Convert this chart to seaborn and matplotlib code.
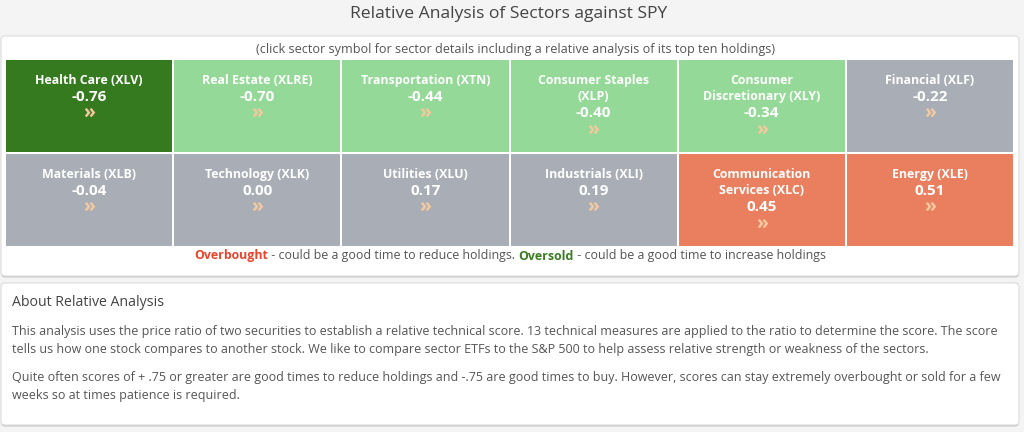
import matplotlib
matplotlib.use("Agg")
import matplotlib.pyplot as plt
import seaborn as sns
import numpy as np
import pandas as pd
from matplotlib.colors import ListedColormap, BoundaryNorm
from matplotlib.patches import FancyBboxPatch

# ---------------- data ----------------
sectors = ["Health Care (XLV)", "Real Estate (XLRE)", "Transportation (XTN)",
           "Consumer Staples\n(XLP)", "Consumer\nDiscretionary (XLY)", "Financial (XLF)",
           "Materials (XLB)", "Technology (XLK)", "Utilities (XLU)",
           "Industrials (XLI)", "Communication\nServices (XLC)", "Energy (XLE)"]
scores = [-0.76, -0.70, -0.44, -0.40, -0.34, -0.22,
          -0.04, 0.00, 0.17, 0.19, 0.45, 0.51]
band_edges = [-1.5, -0.75, -0.30, 0.30, 0.75, 1.5]
band_colors = ["#367a1f", "#94d997", "#a9adb5", "#e97f5e", "#e0452c"]

title = "Relative Analysis of Sectors against SPY"
subtitle = "(click sector symbol for sector details including a relative analysis of its top ten holdings)"
about_title = "About Relative Analysis"
about_lines = [
    "This analysis uses the price ratio of two securities to establish a relative technical score. 13 technical measures are applied to the ratio to determine the score. The score",
    "tells us how one stock compares to another stock. We like to compare sector ETFs to the S&P 500 to help assess relative strength or weakness of the sectors.",
    "Quite often scores of + .75 or greater are good times to reduce holdings and -.75 are good times to buy. However, scores can stay extremely overbought or sold for a few",
    "weeks so at times patience is required.",
]

W, H = 1024, 432
sns.set_theme(style="white")
plt.rcParams["font.family"] = ["Open Sans", "DejaVu Sans"]

fig = plt.figure(figsize=(W / 100, H / 100), dpi=100, facecolor="#f4f4f4")
bg = fig.add_axes([0, 0, 1, 1])
bg.set_xlim(0, W)
bg.set_ylim(H, 0)
bg.axis("off")

def panel(x0, y0, x1, y1):
    sh = FancyBboxPatch((x0, y0 + 1.5), x1 - x0, y1 - y0, boxstyle="round,pad=0,rounding_size=4",
                        facecolor="#c8c8c8", edgecolor="none", zorder=1)
    bg.add_patch(sh)
    p = FancyBboxPatch((x0, y0), x1 - x0, y1 - y0, boxstyle="round,pad=0,rounding_size=4",
                       facecolor="white", edgecolor="#dcdcdc", linewidth=0.8, zorder=2)
    bg.add_patch(p)

panel(1, 36, 1019, 276)
panel(1, 283, 1019, 425)

bg.text(509, 14, title, ha="center", va="center", fontsize=12.6, color="#444444", zorder=5)
bg.text(516, 49, subtitle, ha="center", va="center", fontsize=9.1, color="#555555", zorder=5)

# legend line with mixed colours
fig.canvas.draw()
rend = fig.canvas.get_renderer()
pieces = [("Overbought", "#e8452c", "bold"),
          (" - could be a good time to reduce holdings. ", "#555555", "normal"),
          ("Oversold", "#3a7d22", "bold"),
          (" - could be a good time to increase holdings", "#555555", "normal")]
tmp = []
total = 0
for s, c, w in pieces:
    t = bg.text(0, 256, s, fontsize=8.95, color=c, fontweight=w, va="center", ha="left", zorder=5)
    wpx = t.get_window_extent(renderer=rend).width
    tmp.append((t, wpx))
    total += wpx
x = 510 - total / 2
for t, wpx in tmp:
    t.set_x(x)
    x += wpx

bg.text(12, 303, about_title, ha="left", va="center", fontsize=10.2, color="#444444", zorder=5)
for s, y in zip(about_lines, [331, 349, 377, 395]):
    bg.text(12, y, s, ha="left", va="center", fontsize=9.0, color="#555555", zorder=5)

# ---------------- tiles (heatmap) ----------------
gx0, gx1, gy0, gy1 = 5, 1014, 59, 247
ax = fig.add_axes([gx0 / W, 1 - gy1 / H, (gx1 - gx0) / W, (gy1 - gy0) / H])
grid = pd.DataFrame(np.array(scores).reshape(2, 6))
cmap = ListedColormap(band_colors)
norm = BoundaryNorm(band_edges, cmap.N)
sns.heatmap(grid, ax=ax, cmap=cmap, norm=norm, cbar=False, linewidths=1.3,
            linecolor="white", xticklabels=False, yticklabels=False)
ax.set_xlabel("")
ax.set_ylabel("")

step = 16.7
for i, (name, val) in enumerate(zip(sectors, scores)):
    r, c = divmod(i, 6)
    lines = name.split("\n")
    k = 0
    for ln in lines:
        ax.annotate(ln, xy=(c + 0.5, r), xytext=(0, -(21 + step * k) * 0.72), textcoords="offset points",
                    ha="center", va="center", fontsize=8.9, fontweight="bold", color="white")
        k += 1
    ax.annotate(f"{val:.2f}", xy=(c + 0.5, r), xytext=(0, -(21 + step * k) * 0.72), textcoords="offset points",
                ha="center", va="center", fontsize=11, fontweight="bold", color="white")
    k += 1
    ax.annotate("\u00bb", xy=(c + 0.5, r), xytext=(0, -(21.5 + step * k) * 0.72), textcoords="offset points",
                ha="center", va="center", fontsize=14, fontweight="bold", color="#f5c9a0")

fig.savefig("out.png", dpi=100, facecolor=fig.get_facecolor())
